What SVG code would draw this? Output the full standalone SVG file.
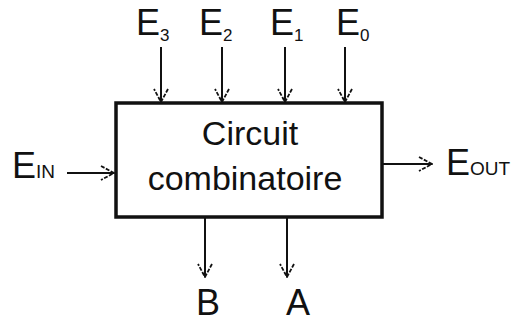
<svg xmlns="http://www.w3.org/2000/svg" width="519" height="322" viewBox="0 0 519 322">
<defs>
<style>
.t{font-family:"Liberation Sans",Arial,sans-serif;fill:#111}
.lbl{font-size:36px}
.sub{font-size:17px}
.sm{font-size:19px}
.mid{font-size:34px}
.ln{stroke:#111;stroke-width:2;fill:none}
.box{stroke:#111;stroke-width:3.5;fill:#fff}
</style>
<marker id="ah" viewBox="0 0 16 16" refX="15" refY="8" markerWidth="16" markerHeight="16" markerUnits="userSpaceOnUse" orient="auto">
<polyline points="2,1 15,8 2,15" fill="none" stroke="#111" stroke-width="1.8" stroke-dasharray="4,1.5"/>
</marker>
</defs>
<rect width="519" height="322" fill="#fff"/>
<g id="connectors">
<line class="ln" x1="161" y1="47" x2="161" y2="102" marker-end="url(#ah)"/>
<line class="ln" x1="222" y1="47" x2="222" y2="102" marker-end="url(#ah)"/>
<line class="ln" x1="285" y1="47" x2="285" y2="102" marker-end="url(#ah)"/>
<line class="ln" x1="345" y1="47" x2="345" y2="102" marker-end="url(#ah)"/>
<line class="ln" x1="67" y1="173" x2="114" y2="173" marker-end="url(#ah)"/>
<line class="ln" x1="383" y1="164" x2="432" y2="164" marker-end="url(#ah)"/>
<line class="ln" x1="205" y1="218" x2="205" y2="277" marker-end="url(#ah)"/>
<line class="ln" x1="287" y1="218" x2="287" y2="277" marker-end="url(#ah)"/>
</g>
<g id="circuit">
<rect class="box" x="116" y="103" width="266" height="114"/>
<text class="t mid" x="250" y="145" text-anchor="middle">Circuit</text>
<text class="t mid" x="245" y="190" text-anchor="middle">combinatoire</text>
</g>
<g id="E3"><text class="t lbl" x="136" y="35">E<tspan class="sub" dy="6">3</tspan></text></g>
<g id="E2"><text class="t lbl" x="199" y="35">E<tspan class="sub" dy="6">2</tspan></text></g>
<g id="E1"><text class="t lbl" x="270" y="35">E<tspan class="sub" dy="6">1</tspan></text></g>
<g id="E0"><text class="t lbl" x="336" y="35">E<tspan class="sub" dy="6">0</tspan></text></g>
<g id="EIN"><text class="t lbl" x="12" y="178">E<tspan class="sm">IN</tspan></text></g>
<g id="EOUT"><text class="t lbl" x="446" y="175">E<tspan class="sm">OUT</tspan></text></g>
<g id="B"><text class="t lbl" x="208" y="315" text-anchor="middle">B</text></g>
<g id="A"><text class="t lbl" x="298" y="315" text-anchor="middle">A</text></g>
</svg>
